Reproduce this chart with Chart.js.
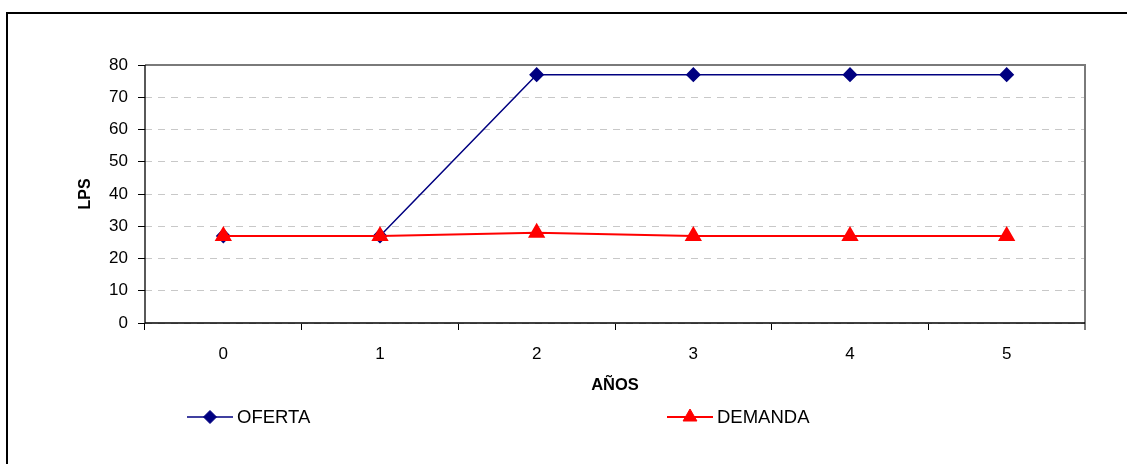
<!DOCTYPE html>
<html>
<head>
<meta charset="utf-8">
<script src="https://cdn.jsdelivr.net/npm/chart.js@4/dist/chart.umd.min.js"></script>
<style>
  html, body { margin: 0; padding: 0; background: #fff; overflow: hidden; }
  #wrap { position: relative; width: 1127px; height: 464px; }
  #frame { position: absolute; left: 6px; top: 12px; width: 1200px; height: 500px;
           border-top: 2px solid #000; border-left: 2px solid #000; }
  #chart { position: absolute; left: 0; top: 0; }
</style>
</head>
<body>
<div id="wrap">
  <div id="frame"></div>
  <canvas id="chart" width="1127" height="464"></canvas>
</div>
<script>
var categories = ['0', '1', '2', '3', '4', '5'];
var oferta = [27, 27, 77, 77, 77, 77];
var demanda = [27, 27, 28, 27, 27, 27];
var yMin = 0, yMax = 80, yStep = 10;

var FONT = "'Liberation Sans', Arial, sans-serif";

// plot frame: black left/bottom axes, grey top/right edges
var framePlugin = {
    id: 'frame',
    beforeDatasetsDraw: function (chart) {
        var a = chart.chartArea, ctx = chart.ctx;
        ctx.save();
        ctx.lineWidth = 2;
        ctx.strokeStyle = '#7a7a7a';
        ctx.beginPath();
        ctx.moveTo(a.left, a.top);
        ctx.lineTo(a.right, a.top);
        ctx.lineTo(a.right, a.bottom + 7);
        ctx.stroke();
        ctx.strokeStyle = '#000';
        ctx.lineWidth = 1.3;
        ctx.beginPath();
        ctx.moveTo(a.left, a.top);
        ctx.lineTo(a.left, a.bottom);
        ctx.lineTo(a.right, a.bottom);
        ctx.stroke();
        ctx.restore();
    }
};

// legend in the Excel style: line with marker in the middle
var legendPlugin = {
    id: 'xlLegend',
    afterDraw: function (chart) {
        var ctx = chart.ctx;
        var xs = [187, 667], y = 417, len = 46;
        chart.data.datasets.forEach(function (ds, i) {
            var x = xs[i];
            ctx.save();
            ctx.strokeStyle = ds.borderColor;
            ctx.lineWidth = ds.borderWidth;
            ctx.beginPath();
            ctx.moveTo(x, y);
            ctx.lineTo(x + len, y);
            ctx.stroke();
            ctx.fillStyle = ds.pointBackgroundColor;
            ctx.strokeStyle = ds.pointBorderColor;
            ctx.lineWidth = 1;
            Chart.helpers.drawPoint(ctx, {
                pointStyle: ds.pointStyle, radius: ds.pointRadius, rotation: 0, borderWidth: 1
            }, x + len / 2, y);
            ctx.fillStyle = '#000';
            ctx.font = '18.5px ' + FONT;
            ctx.textBaseline = 'middle';
            ctx.textAlign = 'left';
            ctx.fillText(ds.label, x + len + 4, y + 1);
            ctx.restore();
        });
    }
};

new Chart(document.getElementById('chart').getContext('2d'), {
    type: 'line',
    data: {
        labels: categories,
        datasets: [{
            label: 'OFERTA',
            data: oferta,
            borderColor: '#000080',
            borderWidth: 1.5,
            pointStyle: 'rectRot',
            pointRadius: 6.5,
            pointBackgroundColor: '#000080',
            pointBorderColor: '#000080',
            order: 1
        }, {
            label: 'DEMANDA',
            data: demanda,
            borderColor: '#ff0000',
            borderWidth: 2,
            pointStyle: 'triangle',
            pointRadius: 8,
            pointBackgroundColor: '#ff0000',
            pointBorderColor: '#ff0000',
            order: 0
        }]
    },
    options: {
        responsive: false,
        animation: false,
        devicePixelRatio: 1,
        layout: { padding: { left: 0, top: 65, right: 42, bottom: 61 } },
        plugins: {
            legend: { display: false },
            title: { display: false },
            tooltip: { enabled: false }
        },
        scales: {
            x: {
                offset: true,
                grid: { offset: true, drawOnChartArea: false, tickLength: 7, tickColor: '#000', tickWidth: 1 },
                border: { display: false },
                ticks: { color: '#000', font: { family: FONT, size: 17 }, padding: 14, maxRotation: 0 },
                title: { display: true, text: 'AÑOS', color: '#000',
                         font: { family: FONT, size: 16.5, weight: 'bold' }, padding: { top: 0, bottom: 8 } },
                afterFit: function (s) { s.height = 80; }
            },
            y: {
                min: yMin,
                max: yMax,
                grid: { color: '#c8c8c8', lineWidth: 1, tickLength: 7, tickColor: '#000',
                        tickWidth: 1, tickBorderDash: [] },
                border: { display: false, dash: [7, 6] },
                ticks: { stepSize: yStep, color: '#000', font: { family: FONT, size: 17 }, padding: 10 },
                title: { display: true, text: 'LPS', color: '#000',
                         font: { family: FONT, size: 16, weight: 'bold' }, padding: { top: 76, bottom: 0 } },
                afterFit: function (s) { s.width = 145; }
            }
        }
    },
    plugins: [framePlugin, legendPlugin]
});
</script>
</body>
</html>
